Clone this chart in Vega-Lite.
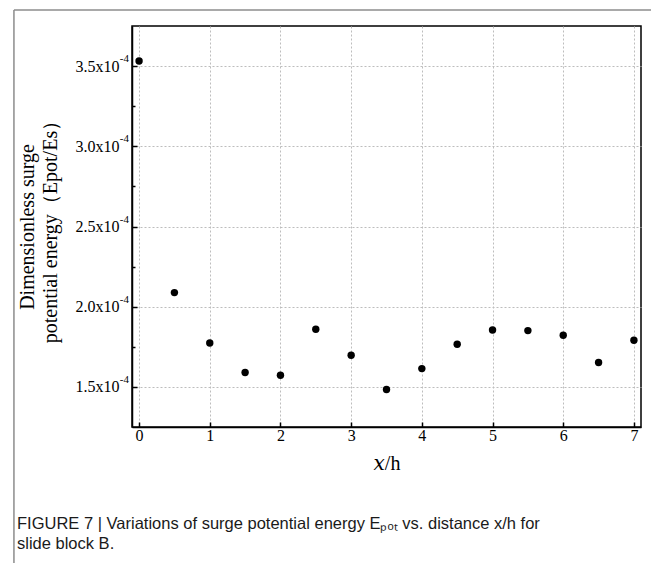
{
  "$schema": "https://vega.github.io/schema/vega-lite/v6.json",
  "width": 509,
  "height": 401,
  "autosize": "none",
  "padding": {"left": 132, "top": 26, "right": 10, "bottom": 136},
  "background": "white",
  "config": {
    "view": {"stroke": "black", "strokeWidth": 1.5},
    "font": "Liberation Serif"
  },
  "title": {
    "text": ["FIGURE 7 | Variations of surge potential energy Eₚₒₜ vs. distance x/h for", "slide block B."],
    "orient": "bottom",
    "anchor": "start",
    "frame": "group",
    "dx": -115,
    "dy": -48,
    "offset": 0,
    "font": "Liberation Sans",
    "fontSize": 16.5,
    "fontWeight": "normal",
    "lineHeight": 20,
    "color": "#1a1a1a"
  },
  "layer": [
    {
      "data": {
        "values": [
          {"xh": 0.0, "epot": 0.0003532},
          {"xh": 0.5, "epot": 0.0002088},
          {"xh": 1.0, "epot": 0.0001774},
          {"xh": 1.5, "epot": 0.0001590},
          {"xh": 2.0, "epot": 0.0001573},
          {"xh": 2.5, "epot": 0.0001859},
          {"xh": 3.0, "epot": 0.0001697},
          {"xh": 3.5, "epot": 0.0001484},
          {"xh": 4.0, "epot": 0.0001614},
          {"xh": 4.5, "epot": 0.0001766},
          {"xh": 5.0, "epot": 0.0001855},
          {"xh": 5.5, "epot": 0.0001851},
          {"xh": 6.0, "epot": 0.0001822},
          {"xh": 6.5, "epot": 0.0001652},
          {"xh": 7.0, "epot": 0.0001791}
        ]
      },
      "mark": {"type": "circle", "size": 55, "color": "black", "opacity": 1},
      "encoding": {
        "x": {
          "field": "xh",
          "type": "quantitative",
          "scale": {"domain": [-0.1, 7.1], "nice": false, "zero": false},
          "axis": {
            "title": "𝑥/h",
            "titleFont": "Liberation Serif, DejaVu Serif",
            "titleFontSize": 20,
            "titleFontWeight": "normal",
            "titleColor": "black",
            "titlePadding": 10,
            "values": [0, 0.5, 1, 1.5, 2, 2.5, 3, 3.5, 4, 4.5, 5, 5.5, 6, 6.5, 7],
            "labelExpr": "datum.value % 1 == 0 ? format(datum.value, 'd') : ''",
            "labelFontSize": 16,
            "labelColor": "black",
            "labelPadding": 5,
            "tickSize": {"condition": {"test": "datum.value % 1 != 0", "value": -3}, "value": -5},
            "tickColor": "black",
            "tickWidth": 1.5,
            "domainColor": "black",
            "domainWidth": 1.5,
            "grid": true,
            "gridColor": "#bdbdbd",
            "gridDash": [2, 2],
            "gridWidth": 1,
            "gridOpacity": {"condition": {"test": "datum.value % 1 != 0", "value": 0}, "value": 1}
          }
        },
        "y": {
          "field": "epot",
          "type": "quantitative",
          "scale": {"domain": [0.000125, 0.000375], "nice": false, "zero": false},
          "axis": {
            "title": ["Dimensionless surge", "potential energy（Epot/Es）"],
            "titleFont": "Liberation Serif",
            "titleFontSize": 20,
            "titleFontWeight": "normal",
            "titleColor": "black",
            "titleLineHeight": 23,
            "titlePadding": 15,
            "values": [0.00015, 0.000175, 0.0002, 0.000225, 0.00025, 0.000275, 0.0003, 0.000325, 0.00035],
            "labelExpr": "round(datum.value * 1e5) % 5 == 0 ? format(datum.value * 1e4, '.1f') + 'x10' : ''",
            "labelFontSize": 16,
            "labelColor": "black",
            "labelPadding": 18,
            "tickSize": {"condition": {"test": "round(datum.value * 1e5) % 5 != 0", "value": -3}, "value": -5},
            "tickColor": "black",
            "tickWidth": 1.5,
            "domainColor": "black",
            "domainWidth": 1.5,
            "grid": true,
            "gridColor": "#bdbdbd",
            "gridDash": [2, 2],
            "gridWidth": 1,
            "gridOpacity": {"condition": {"test": "round(datum.value * 1e5) % 5 != 0", "value": 0}, "value": 1}
          }
        }
      }
    },
    {
      "data": {
        "values": [
          {"tick": 0.00015, "exp": "-4"},
          {"tick": 0.0002, "exp": "-4"},
          {"tick": 0.00025, "exp": "-4"},
          {"tick": 0.0003, "exp": "-4"},
          {"tick": 0.00035, "exp": "-4"}
        ]
      },
      "mark": {"type": "text", "clip": false, "align": "right", "baseline": "middle", "dx": -3, "dy": -7, "fontSize": 11, "font": "Liberation Serif", "color": "black"},
      "encoding": {
        "x": {"datum": -0.1},
        "y": {"field": "tick", "type": "quantitative"},
        "text": {"field": "exp"}
      }
    },
    {
      "data": {"values": [{}]},
      "mark": {"type": "rule", "clip": false, "color": "#8c8c8c", "strokeWidth": 1.5},
      "encoding": {
        "x": {"datum": -1.77},
        "x2": {"datum": 7.3},
        "y": {"datum": 0.000385}
      }
    },
    {
      "data": {"values": [{}]},
      "mark": {"type": "rule", "clip": false, "color": "#8c8c8c", "strokeWidth": 1.5},
      "encoding": {
        "x": {"datum": -1.77},
        "y": {"datum": 0.000385},
        "y2": {"datum": 0.00004}
      }
    }
  ]
}
